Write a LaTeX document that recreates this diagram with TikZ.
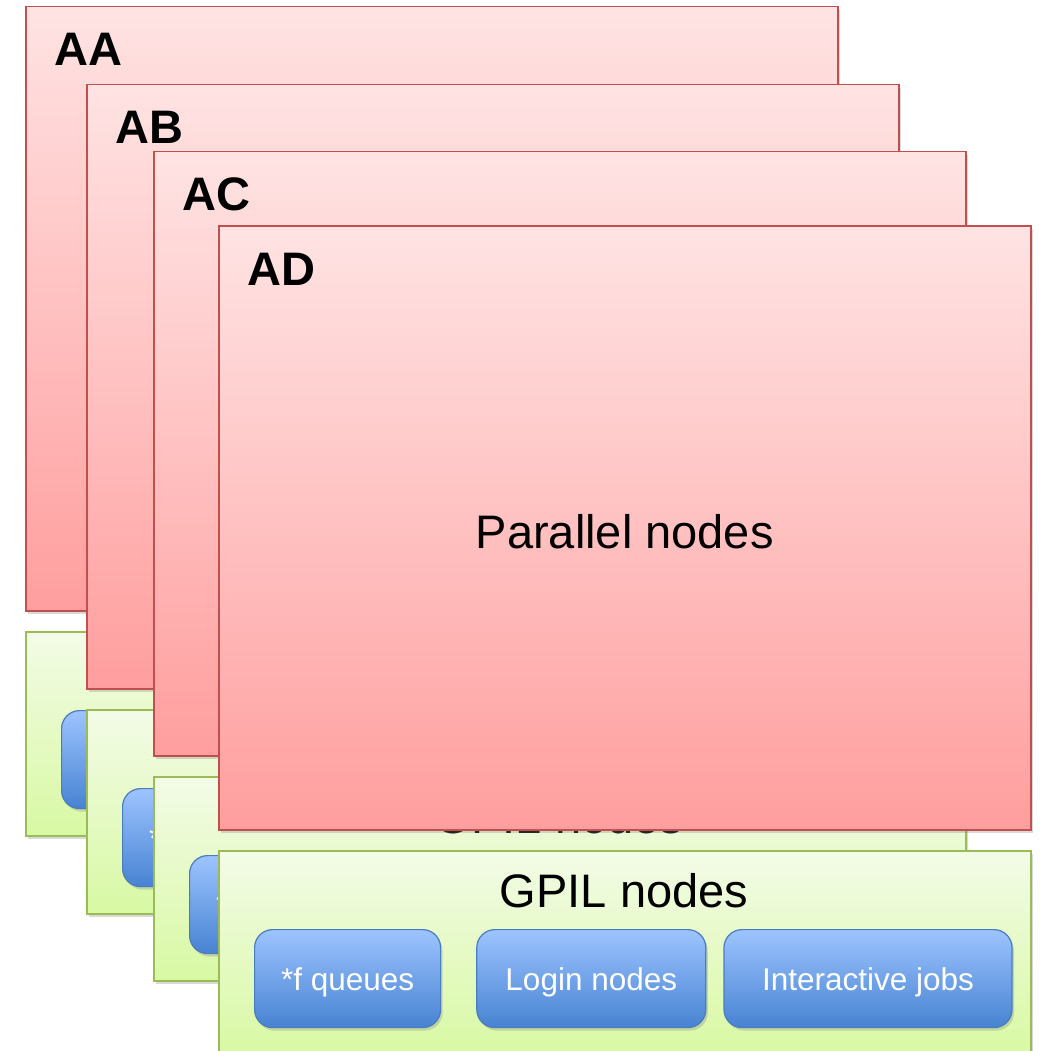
\documentclass[tikz,border=0pt]{standalone}
\usepackage{fontspec}
\setmainfont{Liberation Sans}
\usepackage{tikz}
\usetikzlibrary{positioning,shadows}

\definecolor{redtop}{HTML}{FFE3E3}
\definecolor{redbottom}{HTML}{FF9E9E}
\definecolor{redline}{HTML}{C0504D}
\definecolor{greentop}{HTML}{F3FBE7}
\definecolor{greenbottom}{HTML}{D8F9A3}
\definecolor{greenline}{HTML}{9BBB59}
\definecolor{bluetop}{HTML}{9DC4FF}
\definecolor{bluebottom}{HTML}{4783D2}
\definecolor{blueline}{HTML}{4A7CC0}

\tikzset{
  softshadow/.style={drop shadow={shadow xshift=2pt, shadow yshift=-3pt, opacity=0.3}},
  parpanel/.style={rectangle, minimum width=812pt, minimum height=604pt, draw=redline, line width=1.5pt, top color=redtop, bottom color=redbottom, softshadow},
  gpilpanel/.style={rectangle, minimum width=812pt, minimum height=204pt, draw=greenline, line width=1.5pt, top color=greentop, bottom color=greenbottom, softshadow},
  jobtext/.style={text=white, font=\fontsize{31.5}{38}\selectfont, text height=30pt, text depth=6pt},
  jobbox/.style={rectangle, rounded corners=18pt, minimum height=98pt, draw=blueline, line width=1.2pt, top color=bluetop, bottom color=bluebottom, jobtext, softshadow},
  bigtext/.style={font=\fontsize{47}{56}\selectfont},
}

\begin{document}
\begin{tikzpicture}[x=1pt,y=-1pt]
    \useasboundingbox (0,0) rectangle (1040,1051);
    \foreach \name/\x/\y/\qtext/\gtext in {AA/25/6/{}/{}, AB/86/84/*f queues/{}, AC/153/151/*f queues/GPIL nodes, AD/218/225/*f queues/GPIL nodes} {
        % parallel nodes layer
        \node (par\name) [parpanel, anchor=north west] at (\x,\y) {};
        \node (lbl\name) [anchor=base west, inner sep=0pt, font=\bfseries\fontsize{47}{56}\selectfont] at (\x+29,\y+60) {\name};
        % GPIL layer
        \node (gpil\name) [gpilpanel, anchor=north west] at (\x,\y+625) {};
        \node (gtext\name) [bigtext] at (\x+406,\y+666) {\gtext};
        \node (queue\name) [jobbox, minimum width=186pt, anchor=north west] at (\x+36,\y+704) {\qtext};
        \node (login\name) [jobbox, minimum width=229pt, right=35pt of queue\name] {};
        \node (inter\name) [jobbox, minimum width=288pt, right=17pt of login\name] {};
    }
    \node (ptext) [bigtext, yshift=-4pt] at (parAD.center) {Parallel nodes};
    \node (ltext) [jobtext] at (loginAD) {Login nodes};
    \node (itext) [jobtext] at (interAD) {Interactive jobs};
\end{tikzpicture}
\end{document}
